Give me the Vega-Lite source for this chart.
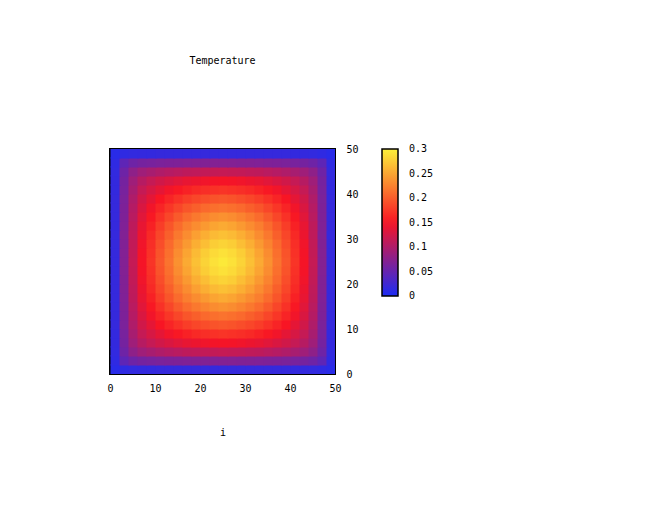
{
"$schema": "https://vega.github.io/schema/vega-lite/v6.json",
"autosize": {"type": "none"},
"width": 225,
"height": 225,
"padding": {"left": 110, "top": 149, "right": 329, "bottom": 138},
"background": "white",
"title": {"text": "Temperature", "font": "DejaVu Sans Mono", "fontSize": 10, "fontWeight": "normal", "color": "black", "offset": 78, "frame": "group", "anchor": "middle"},
"config": {"view": {"stroke": "black", "strokeWidth": 2}},
"data": {"values": [
{"i":0,"j":0,"T":0.009},{"i":2,"j":0,"T":0.013},{"i":4,"j":0,"T":0.015},{"i":6,"j":0,"T":0.016},{"i":8,"j":0,"T":0.016},{"i":10,"j":0,"T":0.017},{"i":12,"j":0,"T":0.017},{"i":14,"j":0,"T":0.017},{"i":16,"j":0,"T":0.017},{"i":18,"j":0,"T":0.017},{"i":20,"j":0,"T":0.017},{"i":22,"j":0,"T":0.017},{"i":24,"j":0,"T":0.017},{"i":26,"j":0,"T":0.017},{"i":28,"j":0,"T":0.017},{"i":30,"j":0,"T":0.017},{"i":32,"j":0,"T":0.017},{"i":34,"j":0,"T":0.017},{"i":36,"j":0,"T":0.017},{"i":38,"j":0,"T":0.017},{"i":40,"j":0,"T":0.016},{"i":42,"j":0,"T":0.016},{"i":44,"j":0,"T":0.015},{"i":46,"j":0,"T":0.013},{"i":48,"j":0,"T":0.009},
{"i":0,"j":2,"T":0.013},{"i":2,"j":2,"T":0.045},{"i":4,"j":2,"T":0.056},{"i":6,"j":2,"T":0.061},{"i":8,"j":2,"T":0.063},{"i":10,"j":2,"T":0.065},{"i":12,"j":2,"T":0.066},{"i":14,"j":2,"T":0.067},{"i":16,"j":2,"T":0.068},{"i":18,"j":2,"T":0.069},{"i":20,"j":2,"T":0.069},{"i":22,"j":2,"T":0.07},{"i":24,"j":2,"T":0.07},{"i":26,"j":2,"T":0.07},{"i":28,"j":2,"T":0.069},{"i":30,"j":2,"T":0.069},{"i":32,"j":2,"T":0.068},{"i":34,"j":2,"T":0.067},{"i":36,"j":2,"T":0.066},{"i":38,"j":2,"T":0.065},{"i":40,"j":2,"T":0.063},{"i":42,"j":2,"T":0.061},{"i":44,"j":2,"T":0.056},{"i":46,"j":2,"T":0.045},{"i":48,"j":2,"T":0.013},
{"i":0,"j":4,"T":0.015},{"i":2,"j":4,"T":0.056},{"i":4,"j":4,"T":0.078},{"i":6,"j":4,"T":0.089},{"i":8,"j":4,"T":0.095},{"i":10,"j":4,"T":0.1},{"i":12,"j":4,"T":0.104},{"i":14,"j":4,"T":0.107},{"i":16,"j":4,"T":0.11},{"i":18,"j":4,"T":0.111},{"i":20,"j":4,"T":0.113},{"i":22,"j":4,"T":0.114},{"i":24,"j":4,"T":0.115},{"i":26,"j":4,"T":0.114},{"i":28,"j":4,"T":0.113},{"i":30,"j":4,"T":0.111},{"i":32,"j":4,"T":0.11},{"i":34,"j":4,"T":0.107},{"i":36,"j":4,"T":0.104},{"i":38,"j":4,"T":0.1},{"i":40,"j":4,"T":0.095},{"i":42,"j":4,"T":0.089},{"i":44,"j":4,"T":0.078},{"i":46,"j":4,"T":0.056},{"i":48,"j":4,"T":0.015},
{"i":0,"j":6,"T":0.016},{"i":2,"j":6,"T":0.061},{"i":4,"j":6,"T":0.089},{"i":6,"j":6,"T":0.105},{"i":8,"j":6,"T":0.115},{"i":10,"j":6,"T":0.123},{"i":12,"j":6,"T":0.129},{"i":14,"j":6,"T":0.134},{"i":16,"j":6,"T":0.139},{"i":18,"j":6,"T":0.142},{"i":20,"j":6,"T":0.145},{"i":22,"j":6,"T":0.147},{"i":24,"j":6,"T":0.148},{"i":26,"j":6,"T":0.147},{"i":28,"j":6,"T":0.145},{"i":30,"j":6,"T":0.142},{"i":32,"j":6,"T":0.139},{"i":34,"j":6,"T":0.134},{"i":36,"j":6,"T":0.129},{"i":38,"j":6,"T":0.123},{"i":40,"j":6,"T":0.115},{"i":42,"j":6,"T":0.105},{"i":44,"j":6,"T":0.089},{"i":46,"j":6,"T":0.061},{"i":48,"j":6,"T":0.016},
{"i":0,"j":8,"T":0.016},{"i":2,"j":8,"T":0.063},{"i":4,"j":8,"T":0.095},{"i":6,"j":8,"T":0.115},{"i":8,"j":8,"T":0.127},{"i":10,"j":8,"T":0.137},{"i":12,"j":8,"T":0.146},{"i":14,"j":8,"T":0.153},{"i":16,"j":8,"T":0.159},{"i":18,"j":8,"T":0.164},{"i":20,"j":8,"T":0.168},{"i":22,"j":8,"T":0.17},{"i":24,"j":8,"T":0.172},{"i":26,"j":8,"T":0.17},{"i":28,"j":8,"T":0.168},{"i":30,"j":8,"T":0.164},{"i":32,"j":8,"T":0.159},{"i":34,"j":8,"T":0.153},{"i":36,"j":8,"T":0.146},{"i":38,"j":8,"T":0.137},{"i":40,"j":8,"T":0.127},{"i":42,"j":8,"T":0.115},{"i":44,"j":8,"T":0.095},{"i":46,"j":8,"T":0.063},{"i":48,"j":8,"T":0.016},
{"i":0,"j":10,"T":0.017},{"i":2,"j":10,"T":0.065},{"i":4,"j":10,"T":0.1},{"i":6,"j":10,"T":0.123},{"i":8,"j":10,"T":0.137},{"i":10,"j":10,"T":0.151},{"i":12,"j":10,"T":0.161},{"i":14,"j":10,"T":0.17},{"i":16,"j":10,"T":0.178},{"i":18,"j":10,"T":0.184},{"i":20,"j":10,"T":0.189},{"i":22,"j":10,"T":0.193},{"i":24,"j":10,"T":0.195},{"i":26,"j":10,"T":0.193},{"i":28,"j":10,"T":0.189},{"i":30,"j":10,"T":0.184},{"i":32,"j":10,"T":0.178},{"i":34,"j":10,"T":0.17},{"i":36,"j":10,"T":0.161},{"i":38,"j":10,"T":0.151},{"i":40,"j":10,"T":0.137},{"i":42,"j":10,"T":0.123},{"i":44,"j":10,"T":0.1},{"i":46,"j":10,"T":0.065},{"i":48,"j":10,"T":0.017},
{"i":0,"j":12,"T":0.017},{"i":2,"j":12,"T":0.066},{"i":4,"j":12,"T":0.104},{"i":6,"j":12,"T":0.129},{"i":8,"j":12,"T":0.146},{"i":10,"j":12,"T":0.161},{"i":12,"j":12,"T":0.173},{"i":14,"j":12,"T":0.184},{"i":16,"j":12,"T":0.194},{"i":18,"j":12,"T":0.201},{"i":20,"j":12,"T":0.208},{"i":22,"j":12,"T":0.212},{"i":24,"j":12,"T":0.215},{"i":26,"j":12,"T":0.212},{"i":28,"j":12,"T":0.208},{"i":30,"j":12,"T":0.201},{"i":32,"j":12,"T":0.194},{"i":34,"j":12,"T":0.184},{"i":36,"j":12,"T":0.173},{"i":38,"j":12,"T":0.161},{"i":40,"j":12,"T":0.146},{"i":42,"j":12,"T":0.129},{"i":44,"j":12,"T":0.104},{"i":46,"j":12,"T":0.066},{"i":48,"j":12,"T":0.017},
{"i":0,"j":14,"T":0.017},{"i":2,"j":14,"T":0.067},{"i":4,"j":14,"T":0.107},{"i":6,"j":14,"T":0.134},{"i":8,"j":14,"T":0.153},{"i":10,"j":14,"T":0.17},{"i":12,"j":14,"T":0.184},{"i":14,"j":14,"T":0.198},{"i":16,"j":14,"T":0.209},{"i":18,"j":14,"T":0.218},{"i":20,"j":14,"T":0.226},{"i":22,"j":14,"T":0.232},{"i":24,"j":14,"T":0.235},{"i":26,"j":14,"T":0.232},{"i":28,"j":14,"T":0.226},{"i":30,"j":14,"T":0.218},{"i":32,"j":14,"T":0.209},{"i":34,"j":14,"T":0.198},{"i":36,"j":14,"T":0.184},{"i":38,"j":14,"T":0.17},{"i":40,"j":14,"T":0.153},{"i":42,"j":14,"T":0.134},{"i":44,"j":14,"T":0.107},{"i":46,"j":14,"T":0.067},{"i":48,"j":14,"T":0.017},
{"i":0,"j":16,"T":0.017},{"i":2,"j":16,"T":0.068},{"i":4,"j":16,"T":0.11},{"i":6,"j":16,"T":0.139},{"i":8,"j":16,"T":0.159},{"i":10,"j":16,"T":0.178},{"i":12,"j":16,"T":0.194},{"i":14,"j":16,"T":0.209},{"i":16,"j":16,"T":0.222},{"i":18,"j":16,"T":0.232},{"i":20,"j":16,"T":0.241},{"i":22,"j":16,"T":0.248},{"i":24,"j":16,"T":0.252},{"i":26,"j":16,"T":0.248},{"i":28,"j":16,"T":0.241},{"i":30,"j":16,"T":0.232},{"i":32,"j":16,"T":0.222},{"i":34,"j":16,"T":0.209},{"i":36,"j":16,"T":0.194},{"i":38,"j":16,"T":0.178},{"i":40,"j":16,"T":0.159},{"i":42,"j":16,"T":0.139},{"i":44,"j":16,"T":0.11},{"i":46,"j":16,"T":0.068},{"i":48,"j":16,"T":0.017},
{"i":0,"j":18,"T":0.017},{"i":2,"j":18,"T":0.069},{"i":4,"j":18,"T":0.111},{"i":6,"j":18,"T":0.142},{"i":8,"j":18,"T":0.164},{"i":10,"j":18,"T":0.184},{"i":12,"j":18,"T":0.201},{"i":14,"j":18,"T":0.218},{"i":16,"j":18,"T":0.232},{"i":18,"j":18,"T":0.245},{"i":20,"j":18,"T":0.255},{"i":22,"j":18,"T":0.263},{"i":24,"j":18,"T":0.267},{"i":26,"j":18,"T":0.263},{"i":28,"j":18,"T":0.255},{"i":30,"j":18,"T":0.245},{"i":32,"j":18,"T":0.232},{"i":34,"j":18,"T":0.218},{"i":36,"j":18,"T":0.201},{"i":38,"j":18,"T":0.184},{"i":40,"j":18,"T":0.164},{"i":42,"j":18,"T":0.142},{"i":44,"j":18,"T":0.111},{"i":46,"j":18,"T":0.069},{"i":48,"j":18,"T":0.017},
{"i":0,"j":20,"T":0.017},{"i":2,"j":20,"T":0.069},{"i":4,"j":20,"T":0.113},{"i":6,"j":20,"T":0.145},{"i":8,"j":20,"T":0.168},{"i":10,"j":20,"T":0.189},{"i":12,"j":20,"T":0.208},{"i":14,"j":20,"T":0.226},{"i":16,"j":20,"T":0.241},{"i":18,"j":20,"T":0.255},{"i":20,"j":20,"T":0.266},{"i":22,"j":20,"T":0.276},{"i":24,"j":20,"T":0.28},{"i":26,"j":20,"T":0.276},{"i":28,"j":20,"T":0.266},{"i":30,"j":20,"T":0.255},{"i":32,"j":20,"T":0.241},{"i":34,"j":20,"T":0.226},{"i":36,"j":20,"T":0.208},{"i":38,"j":20,"T":0.189},{"i":40,"j":20,"T":0.168},{"i":42,"j":20,"T":0.145},{"i":44,"j":20,"T":0.113},{"i":46,"j":20,"T":0.069},{"i":48,"j":20,"T":0.017},
{"i":0,"j":22,"T":0.017},{"i":2,"j":22,"T":0.07},{"i":4,"j":22,"T":0.114},{"i":6,"j":22,"T":0.147},{"i":8,"j":22,"T":0.17},{"i":10,"j":22,"T":0.193},{"i":12,"j":22,"T":0.212},{"i":14,"j":22,"T":0.232},{"i":16,"j":22,"T":0.248},{"i":18,"j":22,"T":0.263},{"i":20,"j":22,"T":0.276},{"i":22,"j":22,"T":0.285},{"i":24,"j":22,"T":0.29},{"i":26,"j":22,"T":0.285},{"i":28,"j":22,"T":0.276},{"i":30,"j":22,"T":0.263},{"i":32,"j":22,"T":0.248},{"i":34,"j":22,"T":0.232},{"i":36,"j":22,"T":0.212},{"i":38,"j":22,"T":0.193},{"i":40,"j":22,"T":0.17},{"i":42,"j":22,"T":0.147},{"i":44,"j":22,"T":0.114},{"i":46,"j":22,"T":0.07},{"i":48,"j":22,"T":0.017},
{"i":0,"j":24,"T":0.017},{"i":2,"j":24,"T":0.07},{"i":4,"j":24,"T":0.115},{"i":6,"j":24,"T":0.148},{"i":8,"j":24,"T":0.172},{"i":10,"j":24,"T":0.195},{"i":12,"j":24,"T":0.215},{"i":14,"j":24,"T":0.235},{"i":16,"j":24,"T":0.252},{"i":18,"j":24,"T":0.267},{"i":20,"j":24,"T":0.28},{"i":22,"j":24,"T":0.29},{"i":24,"j":24,"T":0.295},{"i":26,"j":24,"T":0.29},{"i":28,"j":24,"T":0.28},{"i":30,"j":24,"T":0.267},{"i":32,"j":24,"T":0.252},{"i":34,"j":24,"T":0.235},{"i":36,"j":24,"T":0.215},{"i":38,"j":24,"T":0.195},{"i":40,"j":24,"T":0.172},{"i":42,"j":24,"T":0.148},{"i":44,"j":24,"T":0.115},{"i":46,"j":24,"T":0.07},{"i":48,"j":24,"T":0.017},
{"i":0,"j":26,"T":0.017},{"i":2,"j":26,"T":0.07},{"i":4,"j":26,"T":0.114},{"i":6,"j":26,"T":0.147},{"i":8,"j":26,"T":0.17},{"i":10,"j":26,"T":0.193},{"i":12,"j":26,"T":0.212},{"i":14,"j":26,"T":0.232},{"i":16,"j":26,"T":0.248},{"i":18,"j":26,"T":0.263},{"i":20,"j":26,"T":0.276},{"i":22,"j":26,"T":0.285},{"i":24,"j":26,"T":0.29},{"i":26,"j":26,"T":0.285},{"i":28,"j":26,"T":0.276},{"i":30,"j":26,"T":0.263},{"i":32,"j":26,"T":0.248},{"i":34,"j":26,"T":0.232},{"i":36,"j":26,"T":0.212},{"i":38,"j":26,"T":0.193},{"i":40,"j":26,"T":0.17},{"i":42,"j":26,"T":0.147},{"i":44,"j":26,"T":0.114},{"i":46,"j":26,"T":0.07},{"i":48,"j":26,"T":0.017},
{"i":0,"j":28,"T":0.017},{"i":2,"j":28,"T":0.069},{"i":4,"j":28,"T":0.113},{"i":6,"j":28,"T":0.145},{"i":8,"j":28,"T":0.168},{"i":10,"j":28,"T":0.189},{"i":12,"j":28,"T":0.208},{"i":14,"j":28,"T":0.226},{"i":16,"j":28,"T":0.241},{"i":18,"j":28,"T":0.255},{"i":20,"j":28,"T":0.266},{"i":22,"j":28,"T":0.276},{"i":24,"j":28,"T":0.28},{"i":26,"j":28,"T":0.276},{"i":28,"j":28,"T":0.266},{"i":30,"j":28,"T":0.255},{"i":32,"j":28,"T":0.241},{"i":34,"j":28,"T":0.226},{"i":36,"j":28,"T":0.208},{"i":38,"j":28,"T":0.189},{"i":40,"j":28,"T":0.168},{"i":42,"j":28,"T":0.145},{"i":44,"j":28,"T":0.113},{"i":46,"j":28,"T":0.069},{"i":48,"j":28,"T":0.017},
{"i":0,"j":30,"T":0.017},{"i":2,"j":30,"T":0.069},{"i":4,"j":30,"T":0.111},{"i":6,"j":30,"T":0.142},{"i":8,"j":30,"T":0.164},{"i":10,"j":30,"T":0.184},{"i":12,"j":30,"T":0.201},{"i":14,"j":30,"T":0.218},{"i":16,"j":30,"T":0.232},{"i":18,"j":30,"T":0.245},{"i":20,"j":30,"T":0.255},{"i":22,"j":30,"T":0.263},{"i":24,"j":30,"T":0.267},{"i":26,"j":30,"T":0.263},{"i":28,"j":30,"T":0.255},{"i":30,"j":30,"T":0.245},{"i":32,"j":30,"T":0.232},{"i":34,"j":30,"T":0.218},{"i":36,"j":30,"T":0.201},{"i":38,"j":30,"T":0.184},{"i":40,"j":30,"T":0.164},{"i":42,"j":30,"T":0.142},{"i":44,"j":30,"T":0.111},{"i":46,"j":30,"T":0.069},{"i":48,"j":30,"T":0.017},
{"i":0,"j":32,"T":0.017},{"i":2,"j":32,"T":0.068},{"i":4,"j":32,"T":0.11},{"i":6,"j":32,"T":0.139},{"i":8,"j":32,"T":0.159},{"i":10,"j":32,"T":0.178},{"i":12,"j":32,"T":0.194},{"i":14,"j":32,"T":0.209},{"i":16,"j":32,"T":0.222},{"i":18,"j":32,"T":0.232},{"i":20,"j":32,"T":0.241},{"i":22,"j":32,"T":0.248},{"i":24,"j":32,"T":0.252},{"i":26,"j":32,"T":0.248},{"i":28,"j":32,"T":0.241},{"i":30,"j":32,"T":0.232},{"i":32,"j":32,"T":0.222},{"i":34,"j":32,"T":0.209},{"i":36,"j":32,"T":0.194},{"i":38,"j":32,"T":0.178},{"i":40,"j":32,"T":0.159},{"i":42,"j":32,"T":0.139},{"i":44,"j":32,"T":0.11},{"i":46,"j":32,"T":0.068},{"i":48,"j":32,"T":0.017},
{"i":0,"j":34,"T":0.017},{"i":2,"j":34,"T":0.067},{"i":4,"j":34,"T":0.107},{"i":6,"j":34,"T":0.134},{"i":8,"j":34,"T":0.153},{"i":10,"j":34,"T":0.17},{"i":12,"j":34,"T":0.184},{"i":14,"j":34,"T":0.198},{"i":16,"j":34,"T":0.209},{"i":18,"j":34,"T":0.218},{"i":20,"j":34,"T":0.226},{"i":22,"j":34,"T":0.232},{"i":24,"j":34,"T":0.235},{"i":26,"j":34,"T":0.232},{"i":28,"j":34,"T":0.226},{"i":30,"j":34,"T":0.218},{"i":32,"j":34,"T":0.209},{"i":34,"j":34,"T":0.198},{"i":36,"j":34,"T":0.184},{"i":38,"j":34,"T":0.17},{"i":40,"j":34,"T":0.153},{"i":42,"j":34,"T":0.134},{"i":44,"j":34,"T":0.107},{"i":46,"j":34,"T":0.067},{"i":48,"j":34,"T":0.017},
{"i":0,"j":36,"T":0.017},{"i":2,"j":36,"T":0.066},{"i":4,"j":36,"T":0.104},{"i":6,"j":36,"T":0.129},{"i":8,"j":36,"T":0.146},{"i":10,"j":36,"T":0.161},{"i":12,"j":36,"T":0.173},{"i":14,"j":36,"T":0.184},{"i":16,"j":36,"T":0.194},{"i":18,"j":36,"T":0.201},{"i":20,"j":36,"T":0.208},{"i":22,"j":36,"T":0.212},{"i":24,"j":36,"T":0.215},{"i":26,"j":36,"T":0.212},{"i":28,"j":36,"T":0.208},{"i":30,"j":36,"T":0.201},{"i":32,"j":36,"T":0.194},{"i":34,"j":36,"T":0.184},{"i":36,"j":36,"T":0.173},{"i":38,"j":36,"T":0.161},{"i":40,"j":36,"T":0.146},{"i":42,"j":36,"T":0.129},{"i":44,"j":36,"T":0.104},{"i":46,"j":36,"T":0.066},{"i":48,"j":36,"T":0.017},
{"i":0,"j":38,"T":0.017},{"i":2,"j":38,"T":0.065},{"i":4,"j":38,"T":0.1},{"i":6,"j":38,"T":0.123},{"i":8,"j":38,"T":0.137},{"i":10,"j":38,"T":0.151},{"i":12,"j":38,"T":0.161},{"i":14,"j":38,"T":0.17},{"i":16,"j":38,"T":0.178},{"i":18,"j":38,"T":0.184},{"i":20,"j":38,"T":0.189},{"i":22,"j":38,"T":0.193},{"i":24,"j":38,"T":0.195},{"i":26,"j":38,"T":0.193},{"i":28,"j":38,"T":0.189},{"i":30,"j":38,"T":0.184},{"i":32,"j":38,"T":0.178},{"i":34,"j":38,"T":0.17},{"i":36,"j":38,"T":0.161},{"i":38,"j":38,"T":0.151},{"i":40,"j":38,"T":0.137},{"i":42,"j":38,"T":0.123},{"i":44,"j":38,"T":0.1},{"i":46,"j":38,"T":0.065},{"i":48,"j":38,"T":0.017},
{"i":0,"j":40,"T":0.016},{"i":2,"j":40,"T":0.063},{"i":4,"j":40,"T":0.095},{"i":6,"j":40,"T":0.115},{"i":8,"j":40,"T":0.127},{"i":10,"j":40,"T":0.137},{"i":12,"j":40,"T":0.146},{"i":14,"j":40,"T":0.153},{"i":16,"j":40,"T":0.159},{"i":18,"j":40,"T":0.164},{"i":20,"j":40,"T":0.168},{"i":22,"j":40,"T":0.17},{"i":24,"j":40,"T":0.172},{"i":26,"j":40,"T":0.17},{"i":28,"j":40,"T":0.168},{"i":30,"j":40,"T":0.164},{"i":32,"j":40,"T":0.159},{"i":34,"j":40,"T":0.153},{"i":36,"j":40,"T":0.146},{"i":38,"j":40,"T":0.137},{"i":40,"j":40,"T":0.127},{"i":42,"j":40,"T":0.115},{"i":44,"j":40,"T":0.095},{"i":46,"j":40,"T":0.063},{"i":48,"j":40,"T":0.016},
{"i":0,"j":42,"T":0.016},{"i":2,"j":42,"T":0.061},{"i":4,"j":42,"T":0.089},{"i":6,"j":42,"T":0.105},{"i":8,"j":42,"T":0.115},{"i":10,"j":42,"T":0.123},{"i":12,"j":42,"T":0.129},{"i":14,"j":42,"T":0.134},{"i":16,"j":42,"T":0.139},{"i":18,"j":42,"T":0.142},{"i":20,"j":42,"T":0.145},{"i":22,"j":42,"T":0.147},{"i":24,"j":42,"T":0.148},{"i":26,"j":42,"T":0.147},{"i":28,"j":42,"T":0.145},{"i":30,"j":42,"T":0.142},{"i":32,"j":42,"T":0.139},{"i":34,"j":42,"T":0.134},{"i":36,"j":42,"T":0.129},{"i":38,"j":42,"T":0.123},{"i":40,"j":42,"T":0.115},{"i":42,"j":42,"T":0.105},{"i":44,"j":42,"T":0.089},{"i":46,"j":42,"T":0.061},{"i":48,"j":42,"T":0.016},
{"i":0,"j":44,"T":0.015},{"i":2,"j":44,"T":0.056},{"i":4,"j":44,"T":0.078},{"i":6,"j":44,"T":0.089},{"i":8,"j":44,"T":0.095},{"i":10,"j":44,"T":0.1},{"i":12,"j":44,"T":0.104},{"i":14,"j":44,"T":0.107},{"i":16,"j":44,"T":0.11},{"i":18,"j":44,"T":0.111},{"i":20,"j":44,"T":0.113},{"i":22,"j":44,"T":0.114},{"i":24,"j":44,"T":0.115},{"i":26,"j":44,"T":0.114},{"i":28,"j":44,"T":0.113},{"i":30,"j":44,"T":0.111},{"i":32,"j":44,"T":0.11},{"i":34,"j":44,"T":0.107},{"i":36,"j":44,"T":0.104},{"i":38,"j":44,"T":0.1},{"i":40,"j":44,"T":0.095},{"i":42,"j":44,"T":0.089},{"i":44,"j":44,"T":0.078},{"i":46,"j":44,"T":0.056},{"i":48,"j":44,"T":0.015},
{"i":0,"j":46,"T":0.013},{"i":2,"j":46,"T":0.045},{"i":4,"j":46,"T":0.056},{"i":6,"j":46,"T":0.061},{"i":8,"j":46,"T":0.063},{"i":10,"j":46,"T":0.065},{"i":12,"j":46,"T":0.066},{"i":14,"j":46,"T":0.067},{"i":16,"j":46,"T":0.068},{"i":18,"j":46,"T":0.069},{"i":20,"j":46,"T":0.069},{"i":22,"j":46,"T":0.07},{"i":24,"j":46,"T":0.07},{"i":26,"j":46,"T":0.07},{"i":28,"j":46,"T":0.069},{"i":30,"j":46,"T":0.069},{"i":32,"j":46,"T":0.068},{"i":34,"j":46,"T":0.067},{"i":36,"j":46,"T":0.066},{"i":38,"j":46,"T":0.065},{"i":40,"j":46,"T":0.063},{"i":42,"j":46,"T":0.061},{"i":44,"j":46,"T":0.056},{"i":46,"j":46,"T":0.045},{"i":48,"j":46,"T":0.013},
{"i":0,"j":48,"T":0.009},{"i":2,"j":48,"T":0.013},{"i":4,"j":48,"T":0.015},{"i":6,"j":48,"T":0.016},{"i":8,"j":48,"T":0.016},{"i":10,"j":48,"T":0.017},{"i":12,"j":48,"T":0.017},{"i":14,"j":48,"T":0.017},{"i":16,"j":48,"T":0.017},{"i":18,"j":48,"T":0.017},{"i":20,"j":48,"T":0.017},{"i":22,"j":48,"T":0.017},{"i":24,"j":48,"T":0.017},{"i":26,"j":48,"T":0.017},{"i":28,"j":48,"T":0.017},{"i":30,"j":48,"T":0.017},{"i":32,"j":48,"T":0.017},{"i":34,"j":48,"T":0.017},{"i":36,"j":48,"T":0.017},{"i":38,"j":48,"T":0.017},{"i":40,"j":48,"T":0.016},{"i":42,"j":48,"T":0.016},{"i":44,"j":48,"T":0.015},{"i":46,"j":48,"T":0.013},{"i":48,"j":48,"T":0.009}
]},
"mark": {"type": "rect", "binSpacing": 0, "clip": true},
"encoding": {
  "x": {"field": "i", "type": "quantitative", "bin": {"binned": true, "step": 2.25},
        "scale": {"domain": [0, 50], "nice": false, "zero": false},
        "axis": {"values": [0, 10, 20, 30, 40, 50], "ticks": false, "tickSize": 0, "domain": false, "grid": false, "labelFlush": false,
                 "labelPadding": 9, "labelFont": "DejaVu Sans Mono", "labelFontSize": 10, "labelColor": "black",
                 "title": "i", "titleFont": "DejaVu Sans Mono", "titleFontSize": 10, "titleFontWeight": "normal", "titleColor": "black", "titlePadding": 34}},
  "y": {"field": "j", "type": "quantitative", "bin": {"binned": true, "step": 2.25},
        "scale": {"domain": [0, 50], "nice": false, "zero": false},
        "axis": {"orient": "right", "values": [0, 10, 20, 30, 40, 50], "ticks": false, "tickSize": 0, "domain": false, "grid": false, "labelFlush": false,
                 "labelPadding": 11, "labelFont": "DejaVu Sans Mono", "labelFontSize": 10, "labelColor": "black", "title": null}},
  "color": {"field": "T", "type": "quantitative",
            "scale": {"domain": [0, 0.3], "range": ["#1c2cf4", "#f81424", "#fcf03a"], "interpolate": "rgb"},
            "legend": {"type": "gradient", "orient": "none", "legendX": 272, "legendY": 0, "direction": "vertical", "title": null,
                       "gradientLength": 147, "gradientThickness": 16, "gradientStrokeColor": "black", "gradientStrokeWidth": 1.5,
                       "values": [0, 0.05, 0.1, 0.15, 0.2, 0.25, 0.3], "format": ".2~f", "labelOverlap": false, "labelBaseline": "middle",
                       "labelFont": "DejaVu Sans Mono", "labelFontSize": 10, "labelColor": "black", "labelOffset": 11, "padding": 0,
                       "encode": {"labels": {"update": {"baseline": {"value": "middle"}}}}}}
}
}
